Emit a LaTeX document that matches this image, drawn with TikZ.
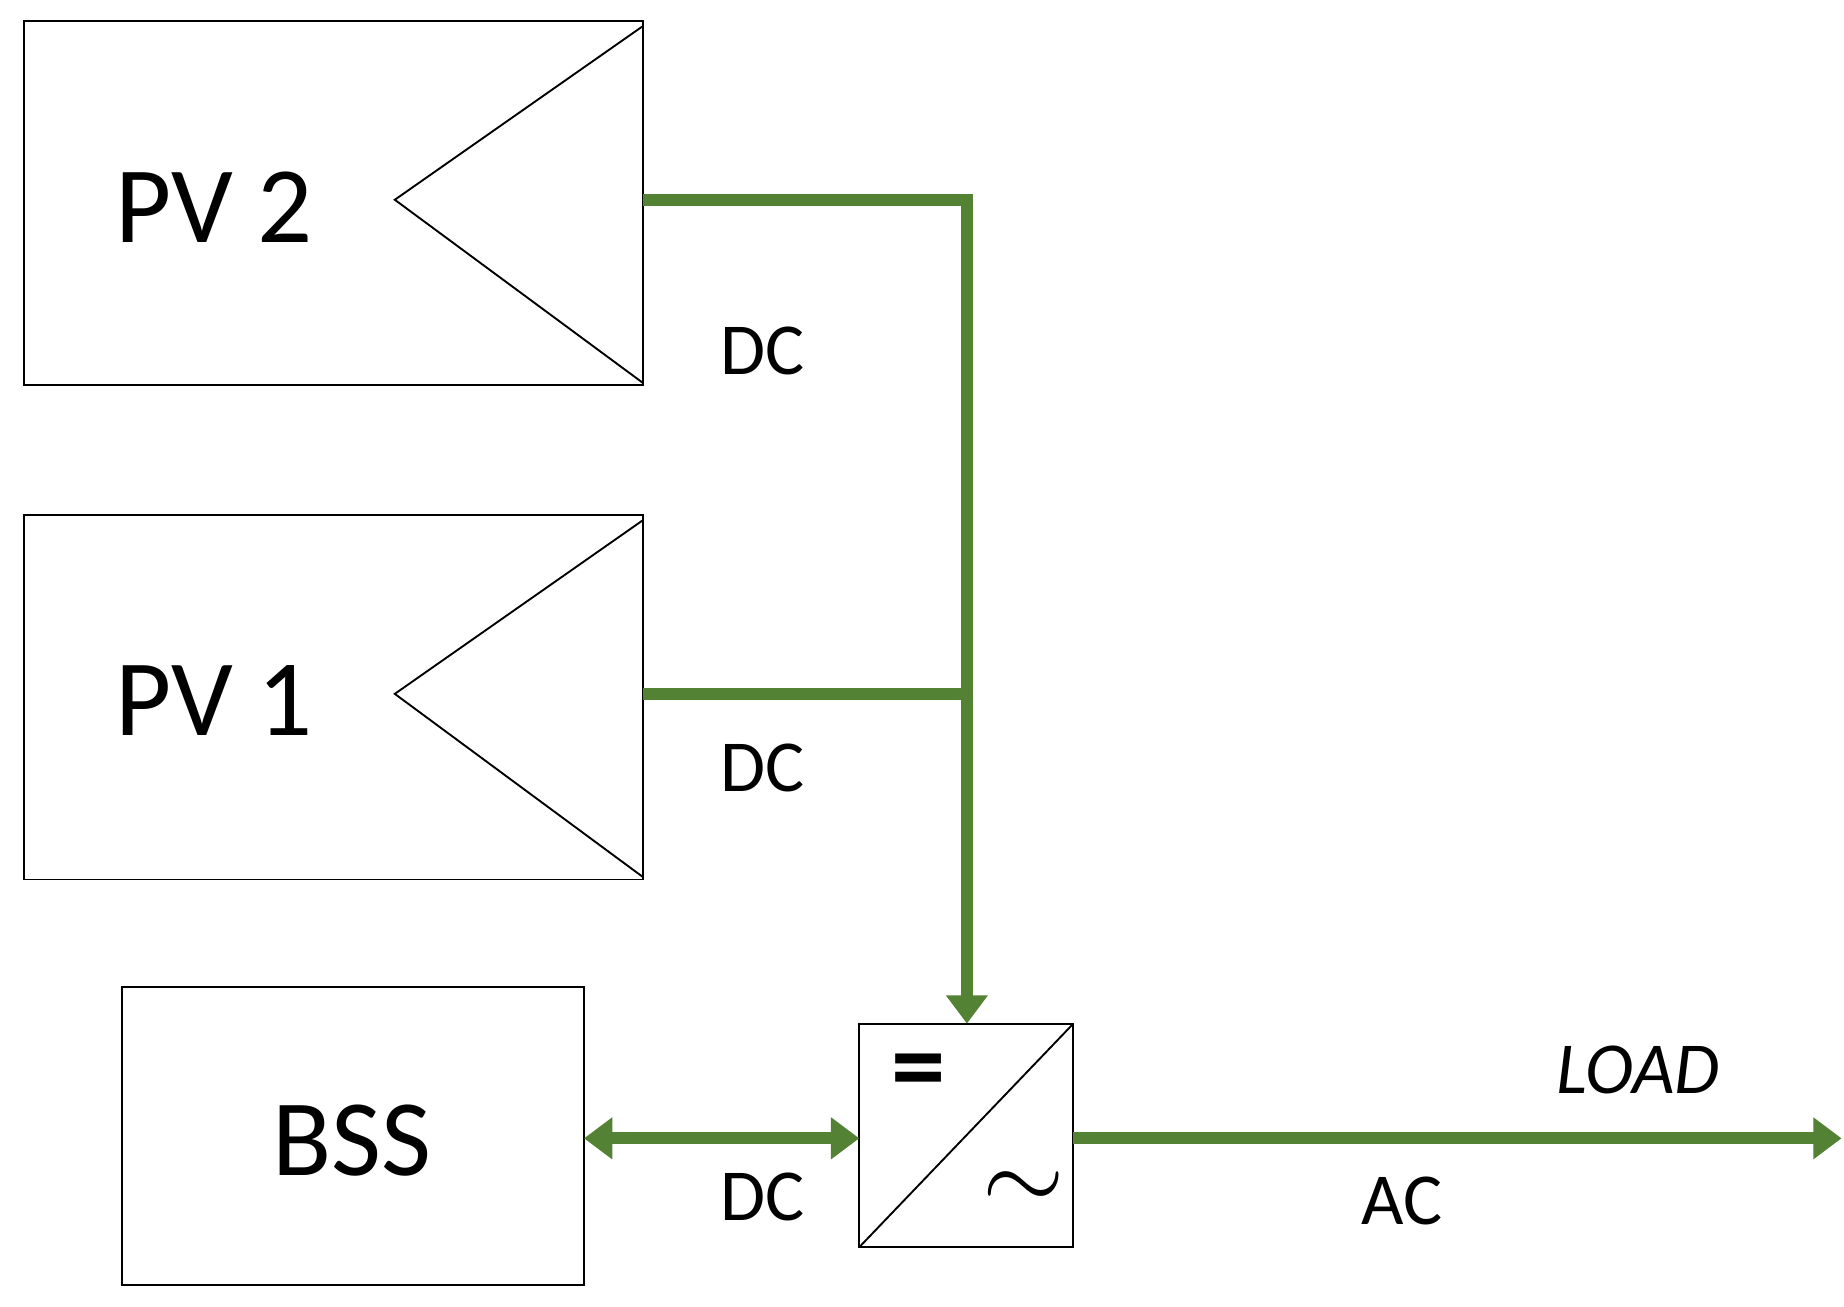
\documentclass[tikz,border=0pt]{standalone}
\usepackage{fontspec}
\setmainfont{Carlito}
\usetikzlibrary{arrows.meta}
\definecolor{gr}{RGB}{84,130,53}
\begin{document}
\begin{tikzpicture}[x=0.5pt,y=-0.5pt,
  box/.style={draw,line width=0.8pt},
  bus/.style={draw=gr,line width=5pt},
  tip/.style={-{Triangle[length=12pt,width=17pt]}},
  big/.style={font=\fontsize{46}{50}\selectfont},
  lab/.style={font=\fontsize{31}{34}\selectfont}]
\useasboundingbox (0,0) rectangle (1560,1105);
\draw[box] (20,18) rectangle (544,326);
\draw[box] (544,22) -- (334,169) -- (544,324);
\node[big] (pv2) at (181,175) {PV 2};
\draw[box] (20,436) rectangle (544,744);
\draw[box] (544,440) -- (334,587) -- (544,742);
\node[big] (pv1) at (181,593) {PV 1};
\draw[box] (103,835) rectangle (494,1087);
\node[big] (bss) at (298,965) {BSS};
\draw[box] (727,866) rectangle (908,1055);
\draw[box] (727,1055) -- (908,866);
\node[big] (eq) at (777,912) {\bfseries =};
\node (tl) at (866,1008) {\scalebox{1.8}{\fontsize{46}{50}\selectfont$\sim$}};
\coordinate (p2) at (544,169);
\coordinate (p1) at (544,587);
\coordinate (j) at (818,587);
\coordinate (top) at (818,866);
\coordinate (bl) at (494,963);
\coordinate (bi) at (727,963);
\coordinate (co) at (908,963);
\coordinate (load) at (1558,963);
\draw[bus,tip] (p2) -- (818,169) -- (top);
\draw[bus] (p1) -- (j);
\draw[bus,{Triangle[length=12pt,width=17pt]}-{Triangle[length=12pt,width=17pt]}] (bl) -- (bi);
\draw[bus,tip] (co) -- (load);
\node[lab] at (645,297) {DC};
\node[lab] at (645,650) {DC};
\node[lab] at (645,1013) {DC};
\node[lab] at (1186,1016) {AC};
\node[lab,font=\fontsize{31}{34}\selectfont\itshape] at (1386,905) {LOAD};
\end{tikzpicture}
\end{document}
